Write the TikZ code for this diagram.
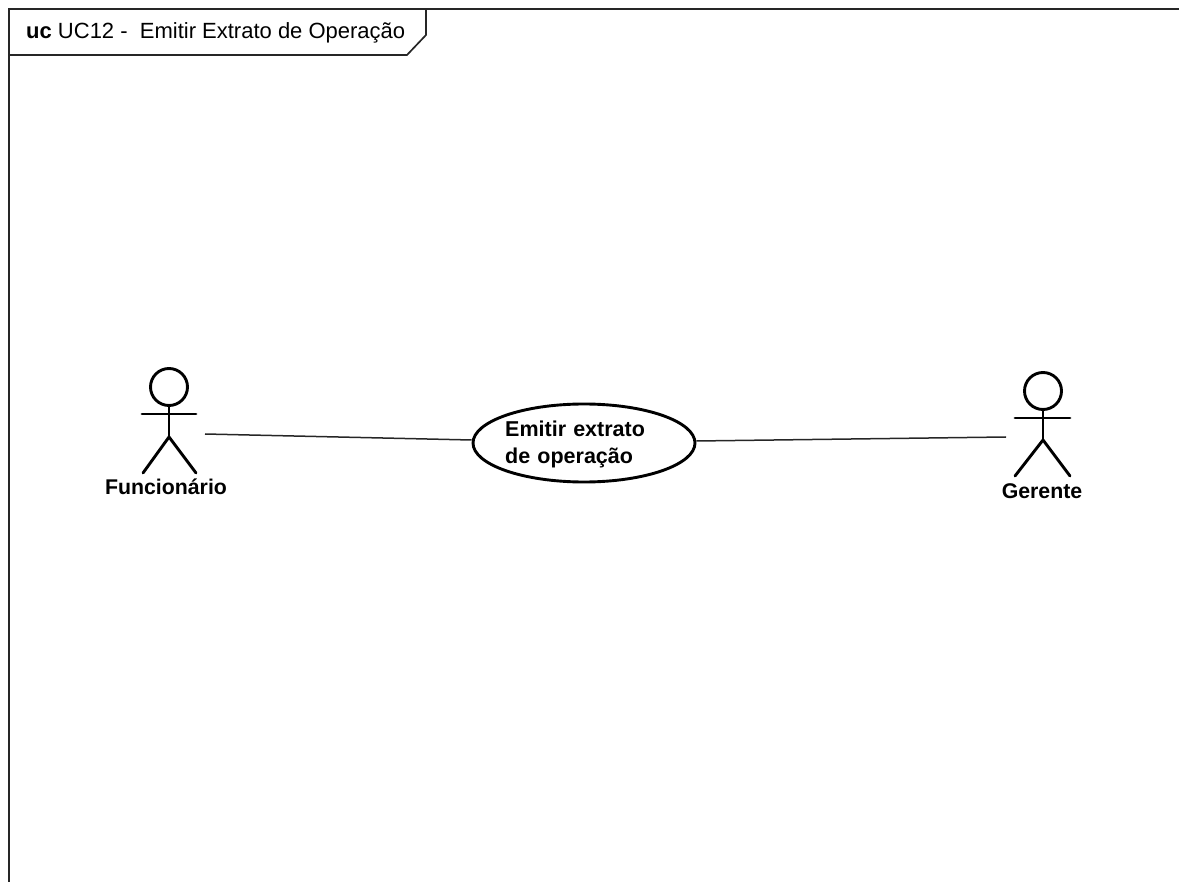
\documentclass[tikz,border=0pt]{standalone}
\usepackage{fontspec}
\setmainfont{Liberation Sans}
\usetikzlibrary{shapes.geometric}
\tikzset{
  frameline/.style={draw=black!85,line width=1.7pt},
  stick/.style={draw=black,line width=2.9pt,line cap=round},
  assoc/.style={draw=black!85,line width=1.5pt},
  actorlabel/.style={inner sep=0pt,font=\fontsize{21.3}{24}\selectfont\bfseries},
  usecase/.style={ellipse,draw=black,line width=2.9pt,minimum width=222pt,minimum height=78pt,inner sep=0pt},
  uctext/.style={inner sep=0pt,align=left,text width=170pt,font=\fontsize{21.5}{27}\selectfont\bfseries},
  headc/.style={circle,draw=black,line width=2.9pt,minimum size=37pt,inner sep=0pt},
  tabtext/.style={inner sep=0pt,anchor=west,font=\fontsize{22}{24}\selectfont}
}
\begin{document}
\begin{tikzpicture}[x=1pt,y=-1pt]
\useasboundingbox (0,0) rectangle (1179,882);
% frame
\draw[frameline] (9,882) -- (9,9) -- (1179,9);
\draw[frameline] (9,55) -- (407,55) -- (426,35) -- (426,9);
\node[tabtext] (title) at (26,33) {\textbf{uc} UC12 -\ \ Emitir Extrato de Operação};
% use case
\node[usecase] (uc) at (584,443) {};
\node[uctext,anchor=north west] (uclabel) at (505,421) {Emitir extrato\\de operação};
% left actor
\node[headc] (headL) at (169,387) {};
\coordinate (hipL) at (169,437);
\coordinate (armLa) at (142,414);
\coordinate (armLb) at (196,414);
\coordinate (footLa) at (143,473);
\coordinate (footLb) at (196,473);
\draw[stick] (headL.south) -- (hipL);
\draw[stick] (armLa) -- (armLb);
\draw[stick] (footLa) -- (hipL) -- (footLb);
\node[actorlabel] (labL) at (166,487) {Funcionário};
% right actor
\node[headc] (headR) at (1043,391) {};
\coordinate (hipR) at (1043,440);
\coordinate (armRa) at (1015,418);
\coordinate (armRb) at (1070,418);
\coordinate (footRa) at (1015,476);
\coordinate (footRb) at (1070,476);
\draw[stick] (headR.south) -- (hipR);
\draw[stick] (armRa) -- (armRb);
\draw[stick] (footRa) -- (hipR) -- (footRb);
\node[actorlabel] (labR) at (1042,491) {Gerente};
% connectors
\coordinate (endL) at (205,434);
\coordinate (endR) at (1006,437);
\draw[assoc] (endL) -- ([yshift=3pt]uc.west);
\draw[assoc] ([yshift=2pt]uc.east) -- (endR);
\end{tikzpicture}
\end{document}
